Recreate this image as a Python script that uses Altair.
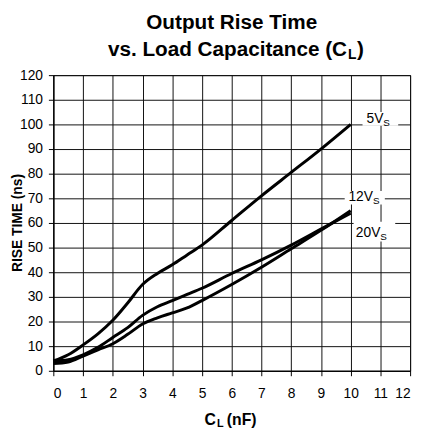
import altair as alt
import pandas as pd

# data
x_nf = [0, 0.5, 1, 1.5, 2, 2.5, 3, 3.5, 4, 4.5, 5, 6, 7, 8, 9, 10]
vs5 = [4, 6.5, 10.5, 15, 20.5, 27.5, 35, 39.5, 43, 47, 51, 61, 71, 80.5, 90, 100]
vs12 = [4, 4.5, 6.5, 9.5, 13.5, 17.5, 22.5, 26, 28.5, 31, 33.5, 39.5, 45, 51, 57.5, 64]
vs20 = [3, 3.6, 6, 8.5, 11, 14.8, 19, 21.5, 23.5, 25.5, 28.5, 35, 42, 49.5, 57, 65]
series_names = ["5Vs", "12Vs", "20Vs"]

label_main = ["5V", "12V", "20V"]
label_sub = ["S", "S", "S"]
label_x = [11.1, 10.75, 11.0]
label_y = [102, 70.4, 56]
box_x1 = [10.4, 9.8, 10.1]
box_x2 = [11.6, 11.15, 11.5]
box_y1 = [99.5, 67.5, 52.5]
box_y2 = [105, 73, 60.5]

x_ticks = list(range(0, 13))
y_ticks = list(range(0, 121, 10))

rows = []
for name, ys in zip(series_names, [vs5, vs12, vs20]):
    for xv, yv in zip(x_nf, ys):
        rows.append({"series": name, "x": xv, "y": yv})
df = pd.DataFrame(rows)

lab = pd.DataFrame({"main": label_main, "sub": label_sub, "x": label_x, "y": label_y,
                    "bx1": box_x1, "bx2": box_x2, "by1": box_y1, "by2": box_y2})

FONT = "Liberation Sans"
xs = alt.Scale(domain=[0, 12], nice=False, zero=False)
ys_ = alt.Scale(domain=[0, 120], nice=False, zero=False)

xax = alt.Axis(values=x_ticks, title=None, grid=True, gridColor="#111", gridWidth=1,
               domain=True, domainColor="#000", tickColor="#000", tickSize=5,
               labelFont=FONT, labelFontSize=14, labelColor="#000", labelPadding=11,
               gridOpacity=1, labelOverlap=False)
yax = alt.Axis(values=y_ticks, title=None, grid=True, gridColor="#111", gridWidth=1,
               domain=True, domainColor="#000", tickColor="#000", tickSize=5,
               labelFont=FONT, labelFontSize=14, labelColor="#000", labelPadding=6,
               gridOpacity=1, labelOverlap=False)

lines = alt.Chart(df).mark_line(color="#000", strokeWidth=3, interpolate="monotone").encode(
    x=alt.X("x:Q", scale=xs, axis=xax),
    y=alt.Y("y:Q", scale=ys_, axis=yax),
    detail="series:N",
)

boxes = alt.Chart(lab).mark_rect(color="white").encode(
    x=alt.X("bx1:Q", scale=xs, axis=xax), x2="bx2:Q",
    y=alt.Y("by1:Q", scale=ys_, axis=yax), y2="by2:Q",
)
main_txt = alt.Chart(lab).mark_text(align="right", baseline="middle", font=FONT,
                                    fontSize=14, color="#000").encode(
    x=alt.X("x:Q", scale=xs, axis=xax), y=alt.Y("y:Q", scale=ys_, axis=yax), text="main:N")
sub_txt = alt.Chart(lab).mark_text(align="left", baseline="middle", font=FONT,
                                   fontSize=10, color="#000", dy=4).encode(
    x=alt.X("x:Q", scale=xs, axis=xax), y=alt.Y("y:Q", scale=ys_, axis=yax), text="sub:N")

def txt(t, x, y, size=13, bold=True, align="center", angle=0):
    kw = dict(align=align, baseline="middle", font=FONT, fontSize=size,
              fontWeight="bold" if bold else "normal", color="#000")
    if angle:
        kw["angle"] = angle
    return alt.Chart(pd.DataFrame({"t": [t]})).mark_text(**kw).encode(
        x=alt.value(x), y=alt.value(y), text="t:N")

title1 = txt("Output Rise Time", 181, -53, size=21)
title2a = txt("vs. Load Capacitance (C", 298, -25, size=21, align="right")
title2b = txt("L", 299, -20, size=14, align="left")
title2c = txt(")", 308, -25, size=21, align="left")
ytitle = txt("RISE TIME (ns)", -36, 150, size=14, angle=270)
xtitle_a = txt("C", 165, 350, size=16, align="right")
xtitle_b = txt("L", 166, 354, size=11, align="left")
xtitle_c = txt("(nF)", 176, 350, size=16, align="left")

chart = alt.layer(
    lines, boxes, main_txt, sub_txt,
    title1, title2a, title2b, title2c, ytitle, xtitle_a, xtitle_b, xtitle_c
).properties(
    width=362, height=300,
    autosize=alt.AutoSizeParams(type="none"),
    padding={"left": 46, "top": 65, "right": 7, "bottom": 60},
    background="white",
).configure_view(stroke="#000", strokeWidth=1)

chart.save("out.html", embed_options={"renderer": "svg", "actions": False})
